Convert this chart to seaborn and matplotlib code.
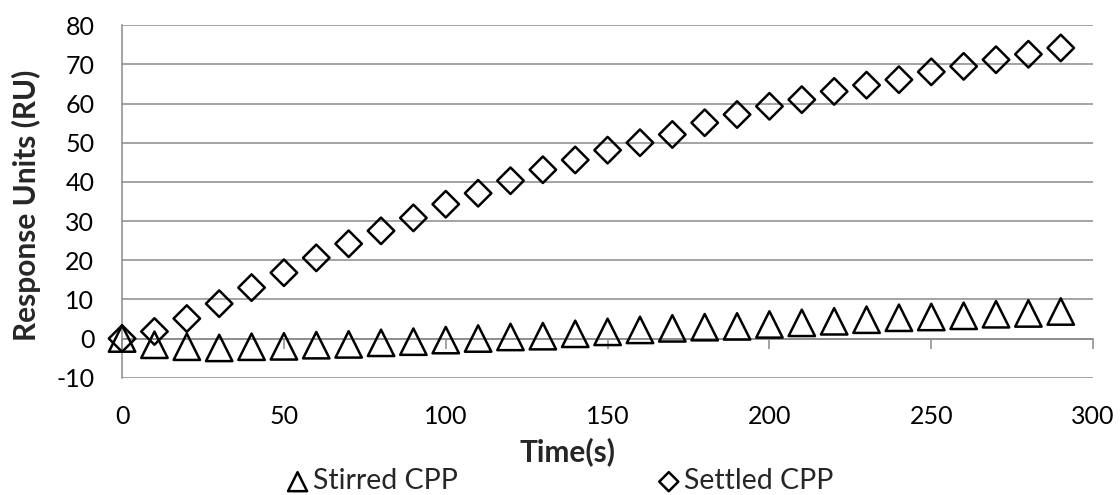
import matplotlib
matplotlib.use("Agg")
import matplotlib.pyplot as plt
import seaborn as sns
import pandas as pd

# ---- data ----
time_s = [0, 10, 20, 30, 40, 50, 60, 70, 80, 90, 100, 110, 120, 130, 140,
          150, 160, 170, 180, 190, 200, 210, 220, 230, 240, 250, 260, 270, 280, 290]
stirred_cpp = [0.0, -1.6, -2.1, -2.4, -2.1, -2.0, -1.7, -1.5, -1.1, -0.8,
               -0.4, 0.0, 0.4, 0.6, 1.2, 1.7, 2.2, 2.6, 2.9, 3.1,
               3.6, 4.0, 4.4, 4.8, 5.3, 5.5, 5.8, 6.2, 6.4, 6.9]
settled_cpp = [0.0, 1.8, 5.1, 8.9, 13.0, 16.8, 20.6, 24.2, 27.5, 30.8,
               34.3, 37.1, 40.3, 43.1, 45.6, 48.1, 50.0, 52.1, 55.1, 57.2,
               59.3, 61.0, 63.1, 64.7, 66.1, 68.1, 69.5, 71.2, 72.6, 74.2]
series_names = ["Stirred CPP", "Settled CPP"]
x_ticks = [0, 50, 100, 150, 200, 250, 300]
y_ticks = [-10, 0, 10, 20, 30, 40, 50, 60, 70, 80]
x_label = "Time(s)"
y_label = "Response Units (RU)"

sns.set_theme(style="white")
plt.rcParams["font.family"] = ["Lato", "DejaVu Sans"]
plt.rcParams["axes.unicode_minus"] = False

GRAY = "#8a8a8a"
TICK_FS = 18
LABEL_FS = 21.5
LEGEND_FS = 20.5

fig = plt.figure(figsize=(11.2, 4.95), dpi=100)
ax = fig.add_axes([0.109, 0.237, 0.867, 0.712])

df_stirred = pd.DataFrame({"time": time_s, "value": stirred_cpp})
df_settled = pd.DataFrame({"time": time_s, "value": settled_cpp})

sns.scatterplot(data=df_stirred, x="time", y="value", marker="^", s=19**2,
                facecolor="none", edgecolor="black", linewidth=1.8,
                label=series_names[0], ax=ax, zorder=3, clip_on=False)
sns.scatterplot(data=df_settled, x="time", y="value", marker="D", s=13.5**2,
                facecolor="none", edgecolor="black", linewidth=1.8,
                label=series_names[1], ax=ax, zorder=3, clip_on=False)

ax.set_xlim(0, 300)
ax.set_ylim(-10, 80)
ax.set_xticks(x_ticks)
ax.set_yticks(y_ticks)
ax.grid(axis="y", color=GRAY, linewidth=1.1)
ax.grid(axis="x", visible=False)
ax.set_axisbelow(True)

for side in ["top", "right", "bottom"]:
    ax.spines[side].set_visible(False)
ax.spines["left"].set_color(GRAY)
ax.spines["left"].set_linewidth(1.1)

ax.tick_params(axis="y", direction="out", length=7, width=1.1, color=GRAY,
               pad=13, labelsize=TICK_FS, labelcolor="black")
ax.tick_params(axis="x", length=0, pad=20, labelsize=TICK_FS, labelcolor="black")

# horizontal axis crossing at y = 0 with outward tick marks
sec = ax.secondary_xaxis(0, transform=ax.transData)
sec.set_xticks(x_ticks)
sec.tick_params(axis="x", direction="out", length=7, width=1.1, color=GRAY,
                labelbottom=False)
sec.spines["bottom"].set_color(GRAY)
sec.spines["bottom"].set_linewidth(1.1)

ax.set_xlabel(x_label, fontsize=LABEL_FS, fontweight="bold", va="center")
ax.set_ylabel(y_label, fontsize=LABEL_FS, fontweight="bold", va="center")
ax.xaxis.set_label_coords(0.459, -0.21)
ax.yaxis.set_label_coords(-0.099, 0.49)

handles, labels = ax.get_legend_handles_labels()
if ax.get_legend() is not None:
    ax.get_legend().remove()
fig.legend(handles, labels, loc="center", bbox_to_anchor=(0.5, 0.028),
           ncol=2, frameon=False, markerscale=0.72, columnspacing=7.0,
           handletextpad=0.15, handlelength=0.8, fontsize=LEGEND_FS,
           borderpad=0.1)

fig.savefig("out.png", dpi=100)
